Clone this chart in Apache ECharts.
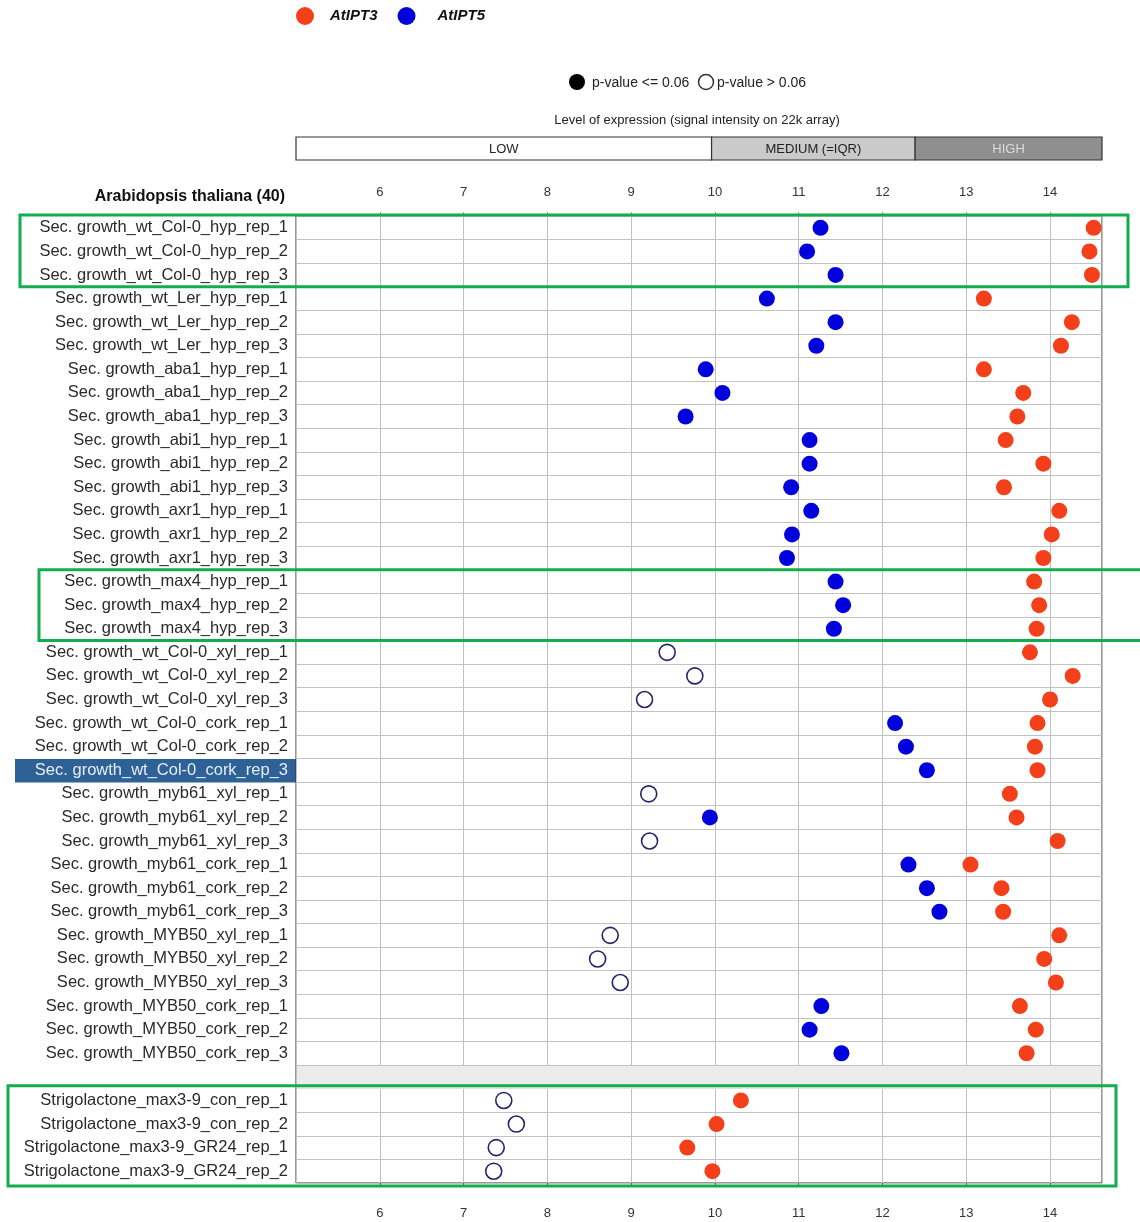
<!DOCTYPE html>
<html>
<head>
<meta charset="utf-8">
<script src="https://cdn.jsdelivr.net/npm/echarts@6/dist/echarts.min.js"></script>
<style>
  html, body { margin: 0; padding: 0; background: #fff; }
  #chart { width: 1140px; height: 1222px; }
</style>
</head>
<body>
<div id="chart"></div>
<script>
// ---------------- data ----------------
const sampleLabels = [
  'Sec. growth_wt_Col-0_hyp_rep_1',
  'Sec. growth_wt_Col-0_hyp_rep_2',
  'Sec. growth_wt_Col-0_hyp_rep_3',
  'Sec. growth_wt_Ler_hyp_rep_1',
  'Sec. growth_wt_Ler_hyp_rep_2',
  'Sec. growth_wt_Ler_hyp_rep_3',
  'Sec. growth_aba1_hyp_rep_1',
  'Sec. growth_aba1_hyp_rep_2',
  'Sec. growth_aba1_hyp_rep_3',
  'Sec. growth_abi1_hyp_rep_1',
  'Sec. growth_abi1_hyp_rep_2',
  'Sec. growth_abi1_hyp_rep_3',
  'Sec. growth_axr1_hyp_rep_1',
  'Sec. growth_axr1_hyp_rep_2',
  'Sec. growth_axr1_hyp_rep_3',
  'Sec. growth_max4_hyp_rep_1',
  'Sec. growth_max4_hyp_rep_2',
  'Sec. growth_max4_hyp_rep_3',
  'Sec. growth_wt_Col-0_xyl_rep_1',
  'Sec. growth_wt_Col-0_xyl_rep_2',
  'Sec. growth_wt_Col-0_xyl_rep_3',
  'Sec. growth_wt_Col-0_cork_rep_1',
  'Sec. growth_wt_Col-0_cork_rep_2',
  'Sec. growth_wt_Col-0_cork_rep_3',
  'Sec. growth_myb61_xyl_rep_1',
  'Sec. growth_myb61_xyl_rep_2',
  'Sec. growth_myb61_xyl_rep_3',
  'Sec. growth_myb61_cork_rep_1',
  'Sec. growth_myb61_cork_rep_2',
  'Sec. growth_myb61_cork_rep_3',
  'Sec. growth_MYB50_xyl_rep_1',
  'Sec. growth_MYB50_xyl_rep_2',
  'Sec. growth_MYB50_xyl_rep_3',
  'Sec. growth_MYB50_cork_rep_1',
  'Sec. growth_MYB50_cork_rep_2',
  'Sec. growth_MYB50_cork_rep_3',
  '',
  'Strigolactone_max3-9_con_rep_1',
  'Strigolactone_max3-9_con_rep_2',
  'Strigolactone_max3-9_GR24_rep_1',
  'Strigolactone_max3-9_GR24_rep_2'
];

const atIPT3 = [14.52, 14.47, 14.50, 13.21, 14.26, 14.13, 13.21, 13.68, 13.61, 13.47,
  13.92, 13.45, 14.11, 14.02, 13.92, 13.81, 13.87, 13.84, 13.76, 14.27,
  14.00, 13.85, 13.82, 13.85, 13.52, 13.60, 14.09, 13.05, 13.42, 13.44,
  14.11, 13.93, 14.07, 13.64, 13.83, 13.72, null, 10.31, 10.02, 9.67, 9.97];

const atIPT5 = [11.26, 11.10, 11.44, 10.62, 11.44, 11.21, 9.89, 10.09, 9.65, 11.13,
  11.13, 10.91, 11.15, 10.92, 10.86, 11.44, 11.53, 11.42, 9.43, 9.76,
  9.16, 12.15, 12.28, 12.53, 9.21, 9.94, 9.22, 12.31, 12.53, 12.68,
  8.75, 8.60, 8.87, 11.27, 11.13, 11.51, null, 7.48, 7.63, 7.39, 7.36];

// 1 = p-value <= 0.06 (filled), 0 = p-value > 0.06 (open)
const atIPT5Significant = [1, 1, 1, 1, 1, 1, 1, 1, 1, 1,
  1, 1, 1, 1, 1, 1, 1, 1, 0, 0,
  0, 1, 1, 1, 0, 1, 0, 1, 1, 1,
  0, 0, 0, 1, 1, 1, null, 0, 0, 0, 0];

const xTickValues = [6, 7, 8, 9, 10, 11, 12, 13, 14];
const xMin = 5.0, xMax = 14.62;
const levelBands = [
  { name: 'LOW', from: xMin, to: 9.96 },
  { name: 'MEDIUM (=IQR)', from: 9.96, to: 12.39 },
  { name: 'HIGH', from: 12.39, to: xMax }
];
const gapIndex = 36;
const highlightIndex = 23;
const boxedGroups = [[0, 2], [15, 17], [37, 40]];

// ---------------- style ----------------
const FONT = "'Liberation Sans', Arial, sans-serif";
const RED = '#f4401a';
const BLUE = '#0000dc';
const OPEN = '#25256e';
const GREEN = '#12ad4f';

const redData = [];
atIPT3.forEach((v, i) => { if (v !== null) redData.push([v, i]); });
const blueData = [];
atIPT5.forEach((v, i) => {
  if (v === null) return;
  if (atIPT5Significant[i]) blueData.push([v, i]);
  else blueData.push({ value: [v, i], itemStyle: { color: '#ffffff', borderColor: OPEN, borderWidth: 1.6 } });
});

const chart = echarts.init(document.getElementById('chart'), null, { renderer: 'canvas' });

const legendText = { fontFamily: FONT, fontSize: 15, fontWeight: 'bold', fontStyle: 'italic', color: '#111' };
const option = {
  animation: false,
  backgroundColor: '#ffffff',
  textStyle: { fontFamily: FONT },
  legend: {
    left: 291, top: 2,
    icon: 'circle',
    itemWidth: 18, itemHeight: 18,
    itemGap: 20,
    data: [
      { name: 'AtIPT3', textStyle: Object.assign({}, legendText, { padding: [0, 0, 0, 11] }) },
      { name: 'AtIPT5', textStyle: Object.assign({}, legendText, { padding: [0, 0, 0, 17] }) }
    ],
    textStyle: legendText
  },
  grid: {
    left: 296, right: 38, top: 216, bottom: 39,
    show: true, borderColor: '#333', borderWidth: 1, backgroundColor: 'transparent'
  },
  xAxis: [
    {
      type: 'value', position: 'bottom', min: xMin, max: xMax, interval: 1,
      axisLine: { show: false },
      axisTick: { show: true, length: 4, lineStyle: { color: '#555' } },
      axisLabel: { showMinLabel: false, showMaxLabel: false, margin: 24, fontSize: 13, color: '#333', fontFamily: FONT,
        formatter: v => xTickValues.includes(v) ? String(v) : '' },
      splitLine: { show: true, lineStyle: { color: '#c0c0c0', width: 1 } }
    },
    {
      type: 'value', position: 'top', min: xMin, max: xMax, interval: 1,
      axisLine: { show: false },
      axisTick: { show: true, length: 4, lineStyle: { color: '#999' } },
      axisLabel: { showMinLabel: false, showMaxLabel: false, margin: 17, fontSize: 13, color: '#333', fontFamily: FONT,
        formatter: v => xTickValues.includes(v) ? String(v) : '' },
      splitLine: { show: false }
    }
  ],
  yAxis: {
    type: 'category', data: sampleLabels, inverse: true,
    axisLine: { show: false },
    axisTick: { show: false },
    axisLabel: {
      interval: 0, margin: 8, fontSize: 16.5, color: '#2a2a2a', fontFamily: FONT,
      formatter: (v, idx) => idx === highlightIndex ? '{hl|' + v + '}' : v,
      rich: { hl: { color: '#e4edf7', fontSize: 16.5, fontFamily: FONT } }
    },
    splitLine: { show: true, interval: 0, lineStyle: { color: '#c2c2c2', width: 1 } }
  },
  series: [
    {
      name: 'AtIPT3', type: 'scatter', xAxisIndex: 0, symbol: 'circle', symbolSize: 16,
      itemStyle: { color: RED, opacity: 1 }, data: redData, z: 3
    },
    {
      name: 'AtIPT5', type: 'scatter', xAxisIndex: 0, symbol: 'circle', symbolSize: 16,
      itemStyle: { color: BLUE, opacity: 1 }, data: blueData, z: 3
    }
  ]
};
chart.setOption(option);

// -------- annotations positioned via the chart's own scales --------
const yc = i => chart.convertToPixel({ yAxisIndex: 0 }, i);
const xc = v => chart.convertToPixel({ xAxisIndex: 0 }, v);
const rowH = yc(1) - yc(0);
const rowTop = i => yc(i) - rowH / 2;
const rowBot = i => yc(i) + rowH / 2;
const plotL = xc(xMin), plotR = xc(xMax);

const g = [];
// title above labels
g.push({ type: 'text', z: 5, style: { text: 'Arabidopsis thaliana (40)', x: plotL - 11, y: 197, align: 'right', verticalAlign: 'middle',
  font: "bold 16px " + FONT, fill: '#111' } });
// p-value key
g.push({ type: 'circle', z: 5, shape: { cx: 577, cy: 82, r: 8 }, style: { fill: '#000' } });
g.push({ type: 'text', z: 5, style: { text: 'p-value <= 0.06', x: 592, y: 83, verticalAlign: 'middle', font: '14px ' + FONT, fill: '#222' } });
g.push({ type: 'circle', z: 5, shape: { cx: 706, cy: 82, r: 7.5 }, style: { fill: '#fff', stroke: '#333', lineWidth: 1.5 } });
g.push({ type: 'text', z: 5, style: { text: 'p-value > 0.06', x: 717, y: 83, verticalAlign: 'middle', font: '14px ' + FONT, fill: '#222' } });
// level of expression caption and bands
g.push({ type: 'text', z: 5, style: { text: 'Level of expression (signal intensity on 22k array)', x: (plotL + plotR) / 2 - 2, y: 120,
  align: 'center', verticalAlign: 'middle', font: '13px ' + FONT, fill: '#222' } });
const bandFill = ['#ffffff', '#cacaca', '#8f8f8f'];
const bandText = ['#222', '#222', '#dcdcdc'];
levelBands.forEach((b, k) => {
  const x0 = xc(b.from), x1 = xc(b.to);
  g.push({ type: 'rect', z: 4, shape: { x: x0, y: 137, width: x1 - x0, height: 23 },
    style: { fill: bandFill[k], stroke: '#333', lineWidth: 1.2 } });
  g.push({ type: 'text', z: 5, style: { text: b.name, x: (x0 + x1) / 2, y: 149, align: 'center', verticalAlign: 'middle',
    font: '13px ' + FONT, fill: bandText[k] } });
});
// gap row
g.push({ type: 'rect', z: 1, shape: { x: plotL + 1, y: rowTop(gapIndex) + 1, width: plotR - plotL - 2, height: rowH - 1 },
  style: { fill: '#ececec' } });
// highlighted label background
g.push({ type: 'rect', z: -1, shape: { x: 15, y: rowTop(highlightIndex) + 0.5, width: plotL - 15, height: rowH },
  style: { fill: '#2e6296' } });
// green annotation boxes
const boxX = [[20, 1128], [39, 1146], [8, 1116]];
const boxPad = [[1, 0], [0, 0], [3, 3]];
boxedGroups.forEach((grp, k) => {
  const y0 = rowTop(grp[0]) - boxPad[k][0];
  const y1 = rowBot(grp[1]) + boxPad[k][1];
  g.push({ type: 'rect', z: 10, shape: { x: boxX[k][0], y: y0, width: boxX[k][1] - boxX[k][0], height: y1 - y0 },
    style: { fill: 'none', stroke: GREEN, lineWidth: 3 } });
});
chart.setOption({ graphic: g });
</script>
</body>
</html>
